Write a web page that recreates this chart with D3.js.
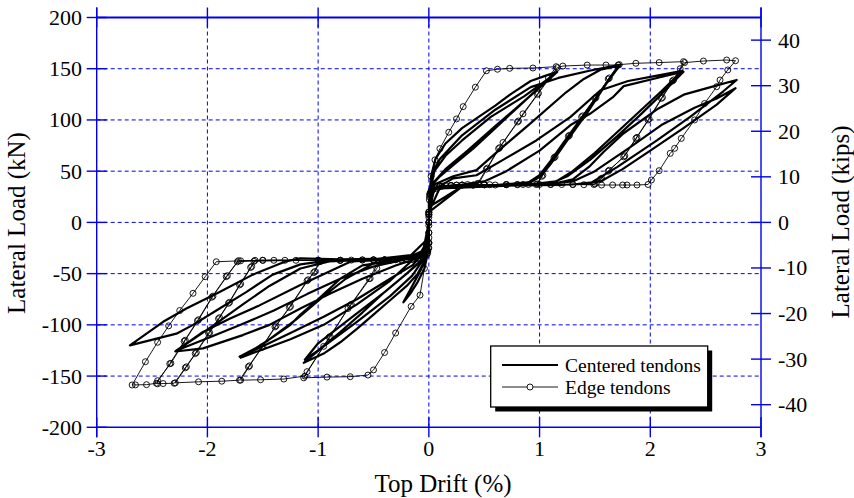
<!DOCTYPE html>
<html>
<head>
<meta charset="utf-8">
<script src="https://cdn.jsdelivr.net/npm/d3@7"></script>
<style>
html,body{margin:0;padding:0;background:#fff;}
svg text{font-family:"Liberation Serif","Times New Roman",serif;fill:#000;}
</style>
</head>
<body>
<svg id="chart" width="854" height="498"></svg>
<script>
// ---------- data ----------
const driftTicks = [-3, -2, -1, 0, 1, 2, 3];
const loadTicks = [-200, -150, -100, -50, 0, 50, 100, 150, 200];
const kipsTicks = [-40, -30, -20, -10, 0, 10, 20, 30, 40];
const kNperKip = 4.448;
const seriesNames = ["Centered tendons", "Edge tendons"];
const xLabel = "Top Drift (%)";
const yLabel = "Lateral Load (kN)";
const y2Label = "Lateral Load (kips)";

// Centered tendons: [drift %, load kN] in loading order
const centeredPath = [
[0,0],[0,-15],[-0.01,-30],[-0.04,-45],[-0.1,-58],[-0.17,-70],[-0.23,-78],
[-0.16,-64],[-0.09,-50],[-0.03,-37],[0,-20],[0,0],
[0.005,25],[0.02,45],[0.06,62],[0.15,77],[0.3,92],[0.45,103],[0.6,114],[0.75,126],[0.92,138],[1.05,143],[1.16,147],
[1.0,132],[0.8,112],[0.6,92],[0.4,72],[0.22,56],[0.1,45],[0.04,38],[0.01,30],[0,10],[0,-20],
[-0.01,-32],[-0.05,-40],[-0.1,-50],[-0.2,-62],[-0.35,-76],[-0.5,-90],[-0.65,-104],[-0.8,-117],[-0.95,-128],[-1.13,-137],
[-0.95,-121],[-0.65,-97],[-0.35,-72],[-0.15,-52],[-0.05,-36],[0,-20],[0,10],
[0.01,30],[0.05,50],[0.15,65],[0.3,80],[0.56,103],[0.86,123],[1.14,145],
[0.9,122],[0.6,94],[0.35,70],[0.15,52],[0.05,40],[0,20],[0,-20],
[-0.05,-36],[-0.2,-50],[-0.4,-68],[-0.6,-88],[-0.8,-107],[-1.0,-125],[-1.12,-134],
[-1.0,-118],[-0.7,-93],[-0.4,-68],[-0.2,-50],[-0.05,-35],[0,-15],[0,15],
[0.01,32],[0.03,48],[0.1,62],[0.3,85],[0.6,110],[0.92,132],[1.17,141],[1.45,148],[1.73,154],
[1.6,135],[1.43,107],[1.25,80],[1.1,57],[1.01,45],[0.9,38],[0.6,36],[0.3,35.5],[0.05,33],[0,10],[0,-25],
[-0.05,-34],[-0.3,-37],[-0.6,-42],[-0.8,-55],[-1.0,-75],[-1.16,-90],[-1.25,-100],[-1.41,-112],[-1.55,-122],[-1.71,-131],
[-1.5,-121],[-1.25,-108],[-0.95,-92],[-0.65,-75],[-0.35,-55],[-0.15,-42],[-0.05,-30],[0,-10],[0,20],
[0.03,35],[0.07,38],[0.22,45],[0.43,51],[0.64,71],[0.91,96],[1.24,127],[1.4,140],[1.55,149],[1.72,153],
[1.58,132],[1.42,108],[1.25,83],[1.1,60],[1.0,46],[0.9,39],[0.6,36.5],[0.3,36],[0.05,33],[0,10],[0,-25],
[-0.03,-33],[-0.2,-36],[-0.5,-40],[-0.75,-55],[-0.95,-72],[-1.2,-95],[-1.45,-115],[-1.7,-132],
[-1.5,-124],[-1.25,-114],[-0.95,-100],[-0.65,-80],[-0.35,-57],[-0.05,-27],[0,0],[0,20],
[0.02,30],[0.1,35],[0.3,37],[0.5,40],[0.7,50],[1.0,70],[1.28,95],[1.455,106],[1.66,122],[1.76,133],[2.06,141],[2.30,147],
[2.1,125],[1.9,104],[1.7,84],[1.455,61],[1.25,45],[1.1,38],[0.8,36],[0.4,35.5],[0.1,34],[0,10],[0,-25],
[-0.05,-33],[-0.3,-36],[-0.7,-38],[-1.16,-61],[-1.53,-81],[-1.80,-94],[-2.04,-107],[-2.29,-126],
[-2.04,-123],[-1.68,-110],[-1.44,-100],[-1.16,-84],[-0.9,-70],[-0.6,-55],[-0.3,-42],[-0.1,-35],[0,-15],[0,15],
[0.01,30],[0.22,43],[0.43,46],[0.67,61],[0.97,80],[1.28,103],[1.55,129],[1.8,138],[2.05,143],[2.29,148],
[2.1,128],[1.9,108],[1.7,88],[1.5,68],[1.3,50],[1.15,40],[0.9,37],[0.5,36],[0.1,34],[0,10],[0,-25],
[-0.1,-35],[-0.5,-36],[-0.9,-38],[-1.16,-45],[-1.44,-62],[-1.68,-80],[-1.9,-97],[-2.1,-112],[-2.28,-125],
[-2.0,-113],[-1.7,-100],[-1.4,-86],[-1.1,-70],[-0.8,-55],[-0.5,-43],[-0.2,-36],[0,-15],[0,15],
[0.05,33],[0.4,35],[0.8,36],[1.1,37],[1.3,42],[1.455,55],[1.58,69],[1.76,87],[2.07,111],[2.31,125],[2.61,134],[2.78,139],
[2.66,128],[2.36,103],[2.06,80],[1.70,54],[1.455,38],[1.2,36.5],[0.8,36],[0.3,35],[0,15],[0,-25],
[-0.2,-35],[-0.8,-36],[-1.16,-35],[-1.29,-38],[-1.59,-51],[-1.89,-68],[-2.19,-84],[-2.40,-97],[-2.70,-120],
[-2.28,-108.6],[-2.13,-100],[-1.89,-84],[-1.65,-68],[-1.41,-51],[-1.16,-41],[-0.9,-37],[-0.5,-36],[0,-30],[0,10],
[0.05,33],[0.5,35],[1.0,37],[1.3,40],[1.5,50],[1.8,72],[2.1,95],[2.4,112],[2.6,121],[2.77,131],
[2.6,115],[2.3,92],[2.0,70],[1.75,52],[1.55,40],[1.3,37],[0.8,36],[0.3,35],[0,10]
];

// Edge tendons: [drift %, load kN] in loading order
const edgePath = [
[0,0],[0.005,25],[0.02,45],[0.055,61],[0.10,72],[0.18,88],[0.25,101],[0.31,113],[0.42,132],[0.52,148],
[0.62,149.5],[0.73,150.4],[0.94,150.7],[1.15,152],
[1.08,141],[0.98,125],[0.85,106],[0.80,98],[0.67,78],[0.63,72],[0.52,52],[0.44,38],
[0.35,37],[0.25,36.5],[0.15,36],[0.07,35],[0.02,31],[0,8],[0,-3],[-0.005,-20],
[-0.01,-30],[-0.04,-45],[-0.08,-71],[-0.16,-82],[-0.30,-108],[-0.40,-127],[-0.50,-144],[-0.55,-149],
[-0.71,-150.6],[-0.92,-151],[-1.13,-151.7],
[-1.10,-145.7],[-0.95,-121],[-0.89,-111.5],[-0.73,-84],[-0.70,-80],[-0.53,-54.6],[-0.47,-44.8],[-0.44,-38],
[-0.35,-37],[-0.25,-36.5],[-0.15,-36],[-0.06,-34],[-0.01,-28],[0,-10],[0,7],[0.005,22],
[0.03,33],[0.1,35.5],[0.2,36],[0.3,36.5],[0.45,38],[0.53,53],[0.64,73],[0.81,99],[0.99,126],[1.16,151],
[1.21,152.6],[1.43,153.6],[1.6,153.6],[1.71,153.6],
[1.62,140],[1.50,121],[1.38,103],[1.26,84],[1.13,63],[1.02,45],[0.97,37],
[0.85,37],[0.7,36.8],[0.55,36.8],[0.4,36.5],[0.25,36.3],[0.12,35.5],[0.04,33],[0.01,27],[0,5],[0,-15],[-0.005,-25],
[-0.05,-34],[-0.15,-36],[-0.3,-36.5],[-0.45,-38],[-0.54,-55],[-0.71,-81],[-0.9,-112],[-1.12,-150],
[-1.31,-152.9],[-1.52,-153.6],[-1.70,-154],
[-1.62,-140],[-1.50,-121],[-1.38,-101],[-1.25,-82],[-1.09,-56],[-1.03,-48],[-0.98,-38],
[-0.8,-37],[-0.6,-36.8],[-0.4,-36.5],[-0.2,-36],[-0.05,-34],[0,-20],[0,10],[0.01,28],
[0.1,35.5],[0.3,36.5],[0.5,36.8],[0.7,37],[0.98,37.5],[1.03,46],[1.14,64],[1.27,85],[1.39,104],[1.51,122],[1.63,141],[1.72,154],
[1.87,155.3],[2.08,156],[2.30,156.9],
[2.27,150],[2.20,138],[2.10,121],[1.98,100],[1.87,82],[1.76,64],[1.62,50],[1.55,42],[1.49,37],
[1.3,37],[1.1,37],[0.9,37],[0.7,36.8],[0.5,36.7],[0.3,36.5],[0.1,35.5],[0.02,30],[0,0],[-0.01,-28],
[-0.2,-36],[-0.5,-36.8],[-0.8,-37],[-0.99,-38.5],[-1.04,-49],[-1.10,-57],[-1.26,-83],[-1.39,-102],[-1.51,-122],[-1.63,-141],[-1.71,-154],
[-1.87,-155],[-2.08,-155.6],[-2.29,-156.6],
[-2.19,-141],[-2.10,-127],[-1.98,-107.6],[-1.89,-93],[-1.80,-78],[-1.70,-60],[-1.60,-43],[-1.57,-37],
[-1.3,-37],[-1.0,-37],[-0.7,-36.8],[-0.4,-36.5],[-0.1,-35],[0,-20],[0,8],[0.01,28],
[0.2,36],[0.5,36.7],[0.8,37],[1.1,37],[1.3,37],[1.5,37.5],[1.56,43],[1.63,51],[1.77,65],[1.88,83],[1.99,101],[2.11,122],[2.21,139],[2.31,156],
[2.48,157.5],[2.69,158.5],[2.77,157.8],
[2.70,148.8],[2.63,139],[2.60,132.5],[2.49,116],[2.40,100],[2.28,82],[2.22,72.3],[2.18,67.4],[2.08,50.5],[2.01,41.4],[1.98,37],
[1.88,36.5],[1.79,36.5],[1.75,36.5],[1.66,36.5],[1.56,36.5],[1.4,36.8],[1.2,37],[1.0,37],[0.8,36.8],[0.6,36.5],[0.4,36.3],[0.2,36],[0.05,34],[0,10],[0,-20],
[-0.1,-35],[-0.4,-36.5],[-0.8,-37],[-1.2,-37],[-1.58,-38],[-1.61,-44],[-1.71,-61],[-1.81,-79],[-1.90,-94],[-1.99,-108],[-2.11,-128],[-2.20,-142],[-2.30,-157],
[-2.40,-157.3],[-2.45,-157.5],
[-2.45,-154.5],[-2.33,-137.5],[-2.20,-115],[-2.08,-95],[-1.95,-72],[-1.82,-52],[-1.72,-37.4],
[-1.5,-37],[-1.0,-37],[-0.5,-36.5],[-0.05,-34],[0,-10],[0,10],[0.03,33],
[0.02,30],[0,0],[-0.02,-32],
[-0.5,-36.5],[-1.0,-37],[-1.5,-37],[-1.73,-38.5],[-1.83,-53],[-1.96,-73],[-2.09,-96],[-2.21,-116],[-2.34,-138],[-2.46,-157],
[-2.55,-158.4],[-2.65,-158.6],[-2.68,-158.7],
[-2.56,-136],[-2.45,-117],[-2.35,-101],[-2.25,-86],[-2.13,-69.2],[-2.02,-53],[-1.92,-38.4],
[-1.7,-37.5],[-1.4,-37],[-1.0,-37],[-0.6,-36.5],[-0.2,-36],[0,-25]
];

// ---------- layout ----------
const svg = d3.select("#chart");
const pLeft = 96.7, pRight = 761, pTop = 17.5, pBottom = 427.3;
const axisBlue = "#0000ee";

const x = d3.scaleLinear().domain([-3, 3]).range([pLeft, pRight]);
const y = d3.scaleLinear().domain([-200, 200]).range([pBottom, pTop]);
const y2 = d3.scaleLinear().domain([-200 / kNperKip, 200 / kNperKip]).range([pBottom, pTop]);
const fmt = d => String(d);

// grid
const grid = svg.append("g");
grid.selectAll("line.gx").data(driftTicks.slice(1, -1)).join("line").attr("class", "gx")
  .attr("x1", d => x(d)).attr("x2", d => x(d)).attr("y1", pTop).attr("y2", pBottom)
  .attr("stroke", axisBlue).attr("stroke-width", 1).attr("stroke-dasharray", "4,3");
grid.selectAll("line.gy").data(loadTicks.slice(1, -1)).join("line").attr("class", "gy")
  .attr("y1", d => y(d)).attr("y2", d => y(d)).attr("x1", pLeft).attr("x2", pRight)
  .attr("stroke", axisBlue).attr("stroke-width", 1).attr("stroke-dasharray", "4,3");

// frame and crossing ticks
const fr = svg.append("g").attr("stroke", axisBlue).attr("stroke-width", 1.4).attr("fill", "none");
fr.append("line").attr("x1", pLeft).attr("x2", pRight).attr("y1", pTop).attr("y2", pTop).attr("stroke-width", 1.8);
fr.append("line").attr("x1", pLeft).attr("x2", pRight).attr("y1", pBottom).attr("y2", pBottom);
fr.append("line").attr("x1", pLeft).attr("x2", pLeft).attr("y1", pTop - 10).attr("y2", pBottom + 10);
fr.append("line").attr("x1", pRight).attr("x2", pRight).attr("y1", pTop - 10).attr("y2", pBottom + 10);
fr.selectAll("line.tl").data(loadTicks).join("line").attr("class", "tl")
  .attr("x1", pLeft - 10).attr("x2", pLeft + 10).attr("y1", d => y(d)).attr("y2", d => y(d));
fr.selectAll("line.tr").data(kipsTicks).join("line").attr("class", "tr")
  .attr("x1", pRight - 10).attr("x2", pRight + 10).attr("y1", d => y2(d)).attr("y2", d => y2(d));
fr.selectAll("line.tb").data(driftTicks).join("line").attr("class", "tb")
  .attr("x1", d => x(d)).attr("x2", d => x(d)).attr("y1", pBottom - 10).attr("y2", pBottom + 10);
fr.selectAll("line.tt").data(driftTicks).join("line").attr("class", "tt")
  .attr("x1", d => x(d)).attr("x2", d => x(d)).attr("y1", pTop - 10).attr("y2", pTop + 10);

// tick labels
const tickFont = 22;
svg.append("g").selectAll("text").data(loadTicks).join("text")
  .attr("x", 82).attr("y", d => y(d) + 7.5).attr("text-anchor", "end")
  .attr("font-size", tickFont).text(fmt);
svg.append("g").selectAll("text").data(kipsTicks).join("text")
  .attr("x", 778).attr("y", d => y2(d) + 7.5).attr("text-anchor", "start")
  .attr("font-size", tickFont).text(fmt);
svg.append("g").selectAll("text").data(driftTicks).join("text")
  .attr("x", d => x(d)).attr("y", 456).attr("text-anchor", "middle")
  .attr("font-size", tickFont).text(fmt);

// axis titles
const titleFont = 25;
svg.append("text").attr("x", 443).attr("y", 492).attr("text-anchor", "middle")
  .attr("font-size", titleFont).text(xLabel);
svg.append("text").attr("transform", "translate(25,223) rotate(-90)").attr("text-anchor", "middle")
  .attr("font-size", titleFont).text(yLabel);
svg.append("text").attr("transform", "translate(849,222) rotate(-90)").attr("text-anchor", "middle")
  .attr("font-size", titleFont).text(y2Label);

// series
const line = d3.line().x(d => x(d[0])).y(d => y(d[1]));
const plot = svg.append("g");
plot.append("path").datum(edgePath).attr("d", line)
  .attr("fill", "none").attr("stroke", "#000").attr("stroke-width", 0.9).attr("stroke-linejoin", "round");
plot.append("g").selectAll("circle").data(edgePath).join("circle")
  .attr("cx", d => x(d[0])).attr("cy", d => y(d[1])).attr("r", 3)
  .attr("fill", "none").attr("stroke", "#000").attr("stroke-width", 0.9);
plot.append("path").datum(centeredPath).attr("d", line)
  .attr("fill", "none").attr("stroke", "#000").attr("stroke-width", 2.2)
  .attr("stroke-linejoin", "round").attr("stroke-linecap", "round");

// legend
const lg = svg.append("g");
const lx = 490.7, ly = 346, lw = 217, lh = 61;
lg.append("rect").attr("x", lx + 4.5).attr("y", ly + 4.5).attr("width", lw).attr("height", lh).attr("fill", "#000");
lg.append("rect").attr("x", lx).attr("y", ly).attr("width", lw).attr("height", lh)
  .attr("fill", "#fff").attr("stroke", "#000").attr("stroke-width", 1.3);
const rows = [ly + 19, ly + 41];
lg.append("line").attr("x1", 502).attr("x2", 558).attr("y1", rows[0]).attr("y2", rows[0])
  .attr("stroke", "#000").attr("stroke-width", 2.2);
lg.append("line").attr("x1", 502).attr("x2", 558).attr("y1", rows[1]).attr("y2", rows[1])
  .attr("stroke", "#000").attr("stroke-width", 0.9);
lg.append("circle").attr("cx", 530).attr("cy", rows[1]).attr("r", 3)
  .attr("fill", "#fff").attr("stroke", "#000").attr("stroke-width", 0.9);
lg.selectAll("text").data(seriesNames).join("text")
  .attr("x", 565).attr("y", (d, i) => rows[i] + 6.5).attr("font-size", 19.5).text(d => d);
</script>
</body>
</html>
